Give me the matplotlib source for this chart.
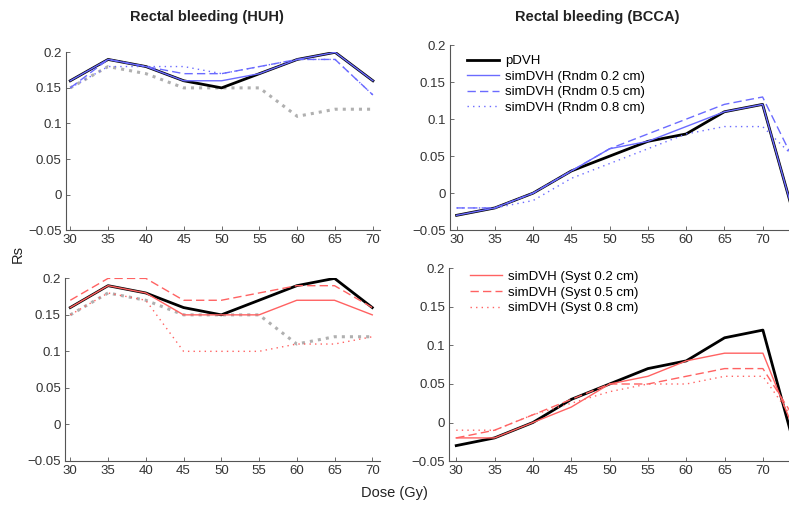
import matplotlib
matplotlib.use('Agg')
import matplotlib.pyplot as plt

plt.rcParams['font.family'] = ['Liberation Sans', 'DejaVu Sans']

# dose levels (Gy); BCCA curves continue to 75 Gy, beyond the right edge
dose_huh  = [30, 35, 40, 45, 50, 55, 60, 65, 70]
dose_bcca = [30, 35, 40, 45, 50, 55, 60, 65, 70, 75]

# HUH (left column)
huh_pdvh   = [0.16, 0.19, 0.18, 0.16, 0.15, 0.17, 0.19, 0.20, 0.16]
huh_rndm02 = [0.16, 0.19, 0.18, 0.16, 0.16, 0.17, 0.19, 0.20, 0.16]
huh_rndm05 = [0.15, 0.19, 0.18, 0.17, 0.17, 0.18, 0.19, 0.19, 0.14]
huh_rndm08 = [0.15, 0.18, 0.18, 0.18, 0.17, 0.18, 0.19, 0.19, 0.14]
huh_syst02 = [0.16, 0.19, 0.18, 0.15, 0.15, 0.15, 0.17, 0.17, 0.15]
huh_syst05 = [0.17, 0.20, 0.20, 0.17, 0.17, 0.18, 0.19, 0.19, 0.16]
huh_syst08 = [0.15, 0.18, 0.17, 0.10, 0.10, 0.10, 0.11, 0.11, 0.12]
huh_grey   = [0.15, 0.18, 0.17, 0.15, 0.15, 0.15, 0.11, 0.12, 0.12]

# BCCA (right column)
bcca_pdvh   = [-0.03, -0.02, 0.00, 0.03, 0.05, 0.07, 0.08, 0.11, 0.12, -0.063]
bcca_rndm02 = [-0.03, -0.02, 0.00, 0.03, 0.06, 0.07, 0.09, 0.11, 0.12, -0.063]
bcca_rndm05 = [-0.02, -0.02, 0.00, 0.03, 0.06, 0.08, 0.10, 0.12, 0.13, 0.025]
bcca_rndm08 = [-0.02, -0.02, -0.01, 0.02, 0.04, 0.06, 0.08, 0.09, 0.09, 0.04]
bcca_syst02 = [-0.02, -0.02, 0.00, 0.02, 0.05, 0.06, 0.08, 0.09, 0.09, -0.033]
bcca_syst05 = [-0.02, -0.01, 0.01, 0.03, 0.05, 0.05, 0.06, 0.07, 0.07, -0.008]
bcca_syst08 = [-0.01, -0.01, 0.01, 0.025, 0.04, 0.05, 0.05, 0.06, 0.06, -0.01]

xticks = [30, 35, 40, 45, 50, 55, 60, 65, 70]
yticks = [-0.05, 0, 0.05, 0.1, 0.15, 0.2]
ytick_labels = ['\u22120.05', '0', '0.05', '0.1', '0.15', '0.2']

blue = '#6b6bff'
red = '#ff6262'
grey = '#b0b0b0'

fig = plt.figure(figsize=(7.89, 5.08), dpi=100)
ax_tl = fig.add_axes([0.0833, 0.547, 0.398, 0.350])
ax_tr = fig.add_axes([0.570, 0.547, 0.445, 0.364])
ax_bl = fig.add_axes([0.0824, 0.093, 0.399, 0.359])
ax_br = fig.add_axes([0.5695, 0.0925, 0.446, 0.379])

def style(ax, xlim):
    ax.set_xlim(xlim)
    ax.set_ylim(-0.05, 0.2)
    ax.set_xticks(xticks)
    ax.set_yticks(yticks)
    ax.set_yticklabels(ytick_labels)
    ax.spines['top'].set_visible(False)
    ax.spines['right'].set_visible(False)
    for s in ['left', 'bottom']:
        ax.spines[s].set_color('#555555')
        ax.spines[s].set_linewidth(0.8)
    ax.tick_params(direction='in', length=3, width=0.6, colors='#555555',
                   labelcolor='#333333', labelsize=9.5, pad=3)

leg_kw = dict(loc='upper left', frameon=False, fontsize=9.5, handlelength=2.4,
              handletextpad=0.45, labelspacing=0.25, borderaxespad=0.0)

# top left: HUH random
ax_tl.plot(dose_huh, huh_grey, color=grey, ls=':', lw=2.2)
ax_tl.plot(dose_huh, huh_pdvh, color='black', lw=2)
ax_tl.plot(dose_huh, huh_rndm02, color=blue, lw=1)
ax_tl.plot(dose_huh, huh_rndm05, color=blue, lw=1, ls=(0, (6, 3)))
ax_tl.plot(dose_huh, huh_rndm08, color=blue, lw=1, ls=(0, (1, 3)))
style(ax_tl, (29.4, 70.9))

# bottom left: HUH systematic
ax_bl.plot(dose_huh, huh_grey, color=grey, ls=':', lw=2.2)
ax_bl.plot(dose_huh, huh_pdvh, color='black', lw=2)
ax_bl.plot(dose_huh, huh_syst02, color=red, lw=1)
ax_bl.plot(dose_huh, huh_syst05, color=red, lw=1, ls=(0, (6, 3)))
ax_bl.plot(dose_huh, huh_syst08, color=red, lw=1, ls=(0, (1, 3)))
style(ax_bl, (29.3, 71.0))

# top right: BCCA random
ax_tr.plot(dose_bcca, bcca_pdvh, color='black', lw=2, label='pDVH')
ax_tr.plot(dose_bcca, bcca_rndm02, color=blue, lw=1, label='simDVH (Rndm 0.2 cm)')
ax_tr.plot(dose_bcca, bcca_rndm05, color=blue, lw=1, ls=(0, (6, 3)), label='simDVH (Rndm 0.5 cm)')
ax_tr.plot(dose_bcca, bcca_rndm08, color=blue, lw=1, ls=(0, (1, 3)), label='simDVH (Rndm 0.8 cm)')
style(ax_tr, (29.1, 75))
ax_tr.legend(bbox_to_anchor=(0.035, 0.975), **leg_kw)

# bottom right: BCCA systematic
ax_br.plot(dose_bcca, bcca_pdvh, color='black', lw=2)
ax_br.plot(dose_bcca, bcca_syst02, color=red, lw=1, label='simDVH (Syst 0.2 cm)')
ax_br.plot(dose_bcca, bcca_syst05, color=red, lw=1, ls=(0, (6, 3)), label='simDVH (Syst 0.5 cm)')
ax_br.plot(dose_bcca, bcca_syst08, color=red, lw=1, ls=(0, (1, 3)), label='simDVH (Syst 0.8 cm)')
style(ax_br, (29.1, 75))
ax_br.legend(bbox_to_anchor=(0.045, 1.015), **leg_kw)

fig.text(0.262, 0.966, 'Rectal bleeding (HUH)', ha='center', va='center',
         fontsize=10.5, fontweight='bold', color='#222222')
fig.text(0.757, 0.966, 'Rectal bleeding (BCCA)', ha='center', va='center',
         fontsize=10.5, fontweight='bold', color='#222222')
fig.text(0.022, 0.500, 'Rs', rotation=90, ha='center', va='center',
         fontsize=10.5, color='#222222')
fig.text(0.5, 0.030, 'Dose (Gy)', ha='center', va='center',
         fontsize=10.5, color='#222222')

fig.savefig('out.png', dpi=100)
